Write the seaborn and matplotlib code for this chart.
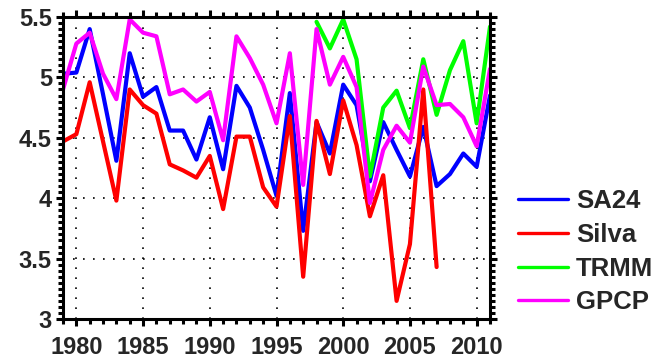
import numpy as np
import pandas as pd
import matplotlib
matplotlib.use("Agg")
import matplotlib.pyplot as plt
import seaborn as sns
from matplotlib.ticker import MultipleLocator, FormatStrFormatter

nan = np.nan
years = list(range(1979, 2012))
sa24 = [5.03, 5.04, 5.40, 4.86, 4.31, 5.20, 4.84, 4.92, 4.56, 4.56, 4.32, 4.67, 4.24,
        4.93, 4.75, 4.40, 4.02, 4.87, 3.73, 4.63, 4.37, 4.94, 4.77, 4.14, 4.63, 4.40,
        4.18, 4.59, 4.10, 4.20, 4.37, 4.26, 4.85]
silva = [4.47, 4.53, 4.96, 4.47, 3.98, 4.90, 4.77, 4.70, 4.28, 4.23, 4.17, 4.35, 3.91,
         4.51, 4.51, 4.09, 3.93, 4.68, 3.35, 4.64, 4.20, 4.81, 4.44, 3.85, 4.19, 3.15,
         3.62, 4.90, 3.43, nan, nan, nan, nan]
trmm = [nan] * 19 + [5.46, 5.24, 5.48, 5.15, 4.18, 4.75, 4.89, 4.58, 5.15, 4.69, 5.06,
                     5.30, 4.62, 5.42]
gpcp = [4.90, 5.28, 5.37, 5.03, 4.82, 5.48, 5.37, 5.34, 4.86, 4.90, 4.80, 4.88, 4.48,
        5.34, 5.16, 4.94, 4.62, 5.20, 4.11, 5.40, 4.94, 5.17, 4.92, 3.96, 4.40, 4.60,
        4.46, 5.09, 4.77, 4.78, 4.67, 4.43, 5.07]
names = ["SA24", "Silva", "TRMM", "GPCP"]
colors = ["#0000ff", "#ff0000", "#00ff00", "#ff00ff"]

df = pd.DataFrame({"year": years, "SA24": sa24, "Silva": silva, "TRMM": trmm, "GPCP": gpcp})
long = df.melt(id_vars="year", var_name="series", value_name="value").dropna()

sns.set_style("white")
plt.rcParams["font.family"] = ["Liberation Sans", "DejaVu Sans"]
plt.rcParams["font.weight"] = "bold"

fig = plt.figure(figsize=(6.55, 3.6), dpi=100)
ax = fig.add_axes([63 / 655, 1 - 319 / 360, (490 - 63) / 655, (319 - 17) / 360])

sns.lineplot(data=long, x="year", y="value", hue="series", hue_order=names,
             palette=colors, linewidth=3.0, ax=ax, legend=False, sort=True)

ax.set_xlim(1979, 2011)
ax.set_ylim(3, 5.5)
ax.set_xlabel("")
ax.set_ylabel("")
ax.xaxis.set_major_locator(MultipleLocator(5))
ax.xaxis.set_minor_locator(MultipleLocator(1))
ax.yaxis.set_major_locator(MultipleLocator(0.5))
ax.yaxis.set_minor_locator(MultipleLocator(0.05))
ax.yaxis.set_major_formatter(FormatStrFormatter("%g"))
ax.grid(True, which="major", color="black", linestyle=(0, (1, 5)), linewidth=1.2)
for s in ax.spines.values():
    s.set_linewidth(2.2)
    s.set_color("black")
ax.tick_params(which="both", direction="out", top=True, right=True, bottom=True, left=True,
               width=2.2, color="black")
ax.tick_params(which="major", length=5, labelsize=17)
ax.tick_params(which="minor", length=3.5)
ax.tick_params(axis="x", labeltop=False, pad=7.5)
ax.tick_params(axis="y", labelright=False, pad=3)
for lab in ax.get_xticklabels() + ax.get_yticklabels():
    lab.set_fontweight("bold")

handles = [plt.Line2D([], [], color=c, linewidth=2.4) for c in colors]
fig.legend(handles, names, loc="upper left", bbox_to_anchor=(518 / 655, 1 - 189 / 360),
           frameon=False, borderpad=0, borderaxespad=0, handlelength=1.95,
           handletextpad=0.3, labelspacing=0.38, prop={"size": 18.5, "weight": "bold"})

fig.savefig("out.png", dpi=100)
